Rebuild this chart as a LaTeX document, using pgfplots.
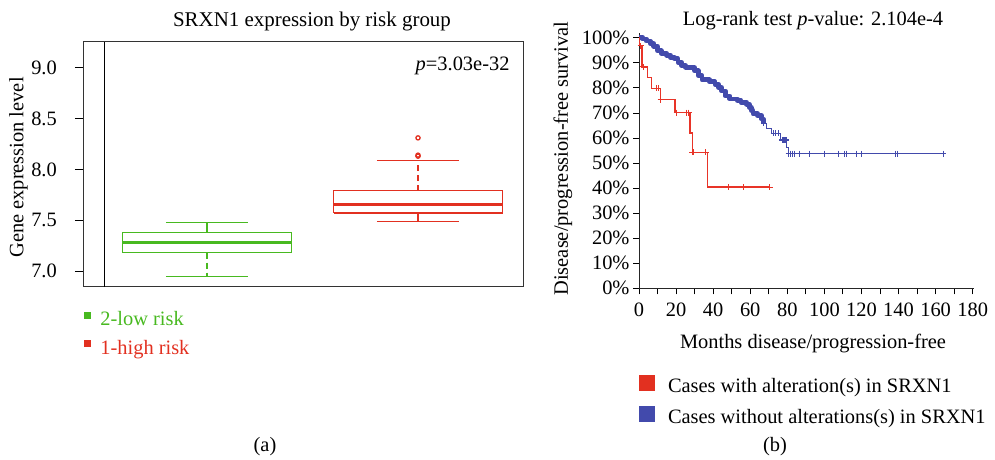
\documentclass[border=0pt]{standalone}
\usepackage{pgfplots}
\pgfplotsset{compat=1.18}
\usepackage{fontspec}
\setmainfont{Liberation Serif}
\definecolor{lowgreen}{RGB}{72,185,32}
\definecolor{highred}{RGB}{226,48,32}
\definecolor{kmblue}{RGB}{66,74,172}
\definecolor{kmred}{RGB}{232,52,40}
\newcommand{\fs}{\fontsize{20.5}{24}\selectfont}
\begin{document}
\begin{tikzpicture}
\useasboundingbox (0,0) rectangle (995bp,460bp);
% ---------------- (a) boxplot ----------------
\begin{axis}[
  at={(83bp,173.3bp)}, anchor=south west, scale only axis,
  width=440bp, height=245bp,
  xmin=0.4123, xmax=2.4976, ymin=6.846, ymax=9.256,
  xtick=\empty, ytick={7,7.5,8,8.5,9}, ytick pos=left,
  tick align=outside, major tick length=8bp,
  axis line style={line width=1bp, black!80},
  every tick/.style={line width=1bp, black},
  /pgf/number format/assume math mode=true,
  yticklabel style={font=\fs, anchor=east, inner sep=0pt, xshift=-18bp, /pgf/number format/fixed, /pgf/number format/fixed zerofill, /pgf/number format/precision=1},
  legend style={at={(axis description cs:0,0)}, anchor=north west, xshift=1bp, yshift=-25bp,
    draw=none, fill=none, inner sep=0pt, outer sep=0pt, row sep=10bp, column sep=10bp,
    nodes={inner sep=0pt, text height=14bp, text depth=4bp, font=\fs}},
  legend cell align=left,
]
\addplot[forget plot, black, line width=0.8bp] coordinates {(0.512,6.846) (0.512,9.256)};
% low risk (green): box 7.18-7.38, median 7.28, whiskers 6.95 / 7.48
\addplot[forget plot, lowgreen, line width=1.3bp] coordinates {(0.6,7.18) (1.4,7.18) (1.4,7.38) (0.6,7.38) (0.6,7.18)};
\addplot[forget plot, lowgreen, line width=2.6bp] coordinates {(0.6,7.28) (1.4,7.28)};
\addplot[forget plot, lowgreen, line width=1.2bp, dash pattern=on 6bp off 4bp] coordinates {(1,7.18) (1,6.95)};
\addplot[forget plot, lowgreen, line width=1.2bp] coordinates {(1,7.38) (1,7.48)};
\addplot[forget plot, lowgreen, line width=1.2bp] coordinates {(0.805,6.95) (1.195,6.95)};
\addplot[forget plot, lowgreen, line width=1.2bp] coordinates {(0.805,7.48) (1.195,7.48)};
% high risk (red): box 7.57-7.79, median 7.655, whiskers 7.49 / 8.09
\addplot[forget plot, highred, line width=1.3bp] coordinates {(1.6,7.57) (2.4,7.57) (2.4,7.79) (1.6,7.79) (1.6,7.57)};
\addplot[forget plot, highred, line width=2.6bp] coordinates {(1.6,7.655) (2.4,7.655)};
\addplot[forget plot, highred, line width=1.2bp] coordinates {(2,7.57) (2,7.49)};
\addplot[forget plot, highred, line width=1.2bp, dash pattern=on 6bp off 4bp] coordinates {(2,7.79) (2,8.09)};
\addplot[forget plot, highred, line width=1.2bp] coordinates {(1.805,7.49) (2.195,7.49)};
\addplot[forget plot, highred, line width=1.2bp] coordinates {(1.805,8.09) (2.195,8.09)};
\addplot[forget plot, only marks, highred, mark=o, mark size=2.1bp, mark options={line width=1.3bp}] coordinates {(2,8.13) (2,8.14) (2,8.31)};
\addlegendimage{legend image code/.code={\fill[lowgreen] (0bp,3bp) rectangle (6bp,9bp);}}
\addlegendentry{\textcolor{lowgreen}{2-low risk}}
\addlegendimage{legend image code/.code={\fill[highred] (0bp,3bp) rectangle (6bp,9bp);}}
\addlegendentry{\textcolor{highred}{1-high risk}}
\end{axis}
\node[font=\fontsize{21}{24}\selectfont, anchor=base] at (312bp,433.3bp) {SRXN1 expression by risk group};
\node[font=\fs, anchor=base east] at (513bp,389.3bp) {\textit{p}=3.03e-32};
\node[font=\fs, rotate=90] at (18.5bp,292.5bp) {Gene expression level};
\node[font=\fs, anchor=base] at (265bp,9bp) {(a)};
% ---------------- (b) Kaplan-Meier ----------------
\begin{axis}[
  at={(639bp,171.7bp)}, anchor=south west, scale only axis,
  width=335bp, height=255bp,
  xmin=0, xmax=180.7, ymin=0, ymax=101.8,
  axis x line=bottom, axis y line=left, axis line style={-, line width=1bp, black!85},
  xtick={0,20,...,180}, minor xtick={10,30,...,170},
  ytick={0,10,...,100},
  yticklabel={\pgfmathprintnumber{\tick}\%},
  tick align=outside, major tick length=6bp, minor tick length=6bp,
  tick style={line width=0.9bp, black},
  /pgf/number format/assume math mode=true,
  tick label style={font=\fs},
  xticklabel style={yshift=-5bp},
  legend style={at={(axis description cs:0,0)}, anchor=north west, xshift=0bp, yshift=-81.7bp,
    draw=none, fill=none, inner sep=0pt, outer sep=0pt, row sep=6bp, column sep=13bp,
    nodes={inner sep=0pt, text height=15bp, text depth=3bp, font=\fs}},
  legend cell align=left,
]
% blue: cases without alterations (dense part)
\addplot[forget plot, const plot, kmblue, line width=4.8bp, line join=round] coordinates {
(0,100.2)(2,99.5)(4,98.7)(6,97.7)(8,96.6)(10,94.8)(12,93.8)(15,93.0)(17,92.2)(19,91.6)
(21,90.2)(23,89.0)(25,88.3)(28,88.0)(30,86.8)(32,84.8)(34,83.2)(38,82.4)(41,81.5)(43,80.2)
(44.5,78.8)(46.5,76.8)(49,75.6)(53,75.0)(55,74.3)(58,73.5)(59.5,72.2)(60.5,71.0)(61.5,69.7)
(64,68.9)(66,67.6)(67,65.8)};
\addplot[forget plot, const plot, kmblue, line width=1bp] coordinates {
(67,65.8)(69,63.6)(71.5,61.8)(76.4,59.2)(79.7,56.3)(80.6,53.8)(164.2,53.8)};
\addplot[forget plot, only marks, mark=+, kmblue, mark size=3bp, mark options={line width=1.1bp}] coordinates {
(67.3,65.8)(72.6,61.8)(73.5,61.8)(75.0,61.8)(77.2,59.2)(78.2,59.2)(79.3,59.2)
(80.7,53.8)(81.5,53.8)(82.6,53.8)(84.1,53.8)(86.4,53.8)(92.1,53.8)(100.2,53.8)(107.4,53.8)
(111.0,53.8)(111.9,53.8)(117.3,53.8)(120.0,53.8)(138.5,53.8)(139.2,53.8)(164.0,53.8)};
% red: cases with alterations
\addplot[forget plot, const plot, kmred, line width=1.3bp] coordinates {
(0,100)(0.4,96.8)(1.6,88.4)(4.7,84.2)(6.8,79.8)(11.7,75.3)(19.4,70.1)(27.5,62.0)(28.7,54.3)
(37,40.4)(70.6,40.4)};
\addplot[forget plot, only marks, mark=+, kmred, mark size=3bp, mark options={line width=1.1bp}] coordinates {
(0.9,96.8)(2.3,88.4)(9.5,79.8)(10.4,79.8)(11.7,75.3)(20.3,70.1)(25.7,70.1)(26.9,70.1)
(28.7,54.3)(29.6,54.3)(35.9,54.3)(48.1,40.4)(56.2,40.4)(70.6,40.4)};
\addlegendimage{legend image code/.code={\path[draw=none, fill=none, use as bounding box] (0bp,0bp) rectangle (16bp,16bp); \fill[highred, draw=none] (0bp,-4.5bp) rectangle (16bp,11.5bp);}}
\addlegendentry{Cases with alteration(s) in SRXN1}
\addlegendimage{legend image code/.code={\path[draw=none, fill=none, use as bounding box] (0bp,0bp) rectangle (16bp,16bp); \fill[kmblue, draw=none] (0bp,-4.5bp) rectangle (16bp,11.5bp);}}
\addlegendentry{Cases without alterations(s) in SRXN1}
\end{axis}
\node[font=\fs, anchor=base] at (813bp,434bp) {Log-rank test \textit{p}-value: 2.104e-4};
\node[font=\fs, rotate=90] at (563bp,301.5bp) {Disease/progression-free survival};
\node[font=\fs, anchor=base] at (813bp,111.7bp) {Months disease/progression-free};
\node[font=\fs, anchor=base] at (775bp,9bp) {(b)};
\end{tikzpicture}
\end{document}
